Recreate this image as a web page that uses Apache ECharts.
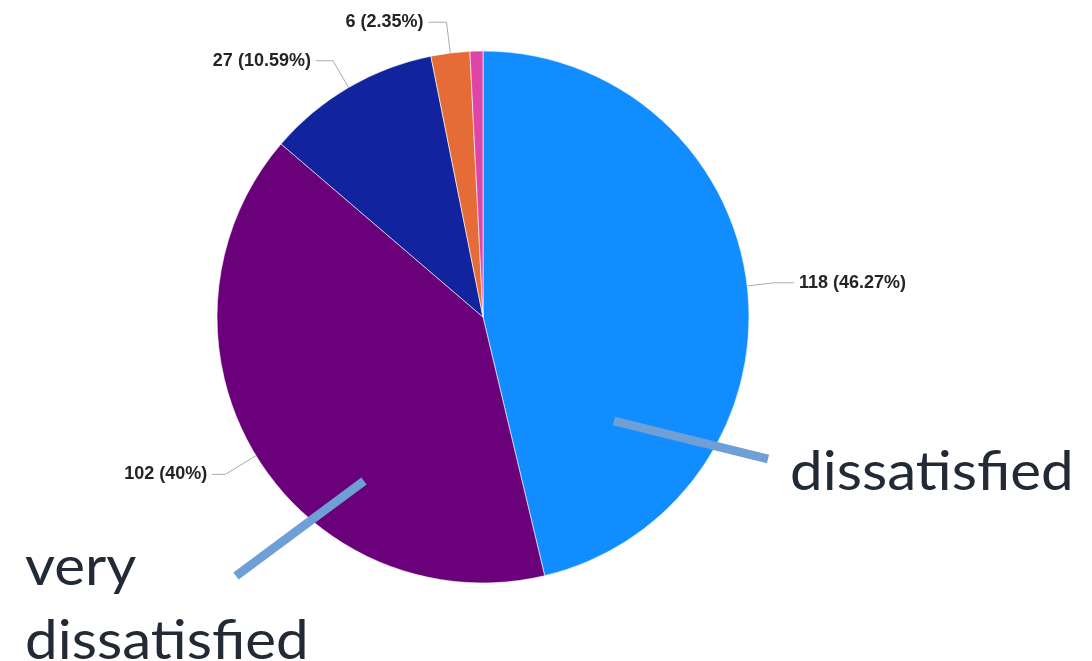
<!DOCTYPE html>
<html>
<head>
<meta charset="utf-8">
<script src="https://cdn.jsdelivr.net/npm/echarts@6/dist/echarts.min.js"></script>
<style>html,body{margin:0;padding:0;background:#fff}#c{width:1092px;height:661px}</style>
</head>
<body>
<div id="c"></div>
<script>
const categories = ['dissatisfied', 'very dissatisfied', 'neutral', 'satisfied', 'very satisfied'];
const values = [118, 102, 27, 6, 2];
const colors = ['#118DFF', '#6B007B', '#12239E', '#E66C37', '#E044A7'];
const showLabel = [true, true, true, true, false];
const lineLen = [27, 36, 31, 31, 27];
const lineLen2 = [20, 13, 17, 18, 20];

const total = values.reduce((a, b) => a + b, 0);
const chart = echarts.init(document.getElementById('c'), null, {renderer: 'canvas'});
const data = categories.map((n, i) => ({
  name: n, value: values[i],
  itemStyle: {color: colors[i]},
  label: {show: showLabel[i]},
  labelLine: {show: showLabel[i], length: lineLen[i], length2: lineLen2[i]}
}));
const annFont = 'Lato, "Open Sans", sans-serif';
const annStyle = (t) => ({text: t, font: '55px ' + annFont, fill: '#222A35'});
chart.setOption({
  animation: false,
  series: [{
    type: 'pie',
    center: [483, 317],
    radius: 266,
    startAngle: 90,
    clockwise: true,
    avoidLabelOverlap: false,
    itemStyle: {borderColor: '#fff', borderWidth: 0.6},
    label: {
      formatter: p => p.value + ' (' + (Math.round(p.value / total * 10000) / 100) + '%)',
      fontFamily: 'Arial',
      fontWeight: 'bold', fontSize: 18, color: '#252423'
    },
    labelLine: {lineStyle: {color: '#aaaaaa', width: 1}},
    data: data
  }],
  graphic: [
    {type: 'line', shape: {x1: 614, y1: 421, x2: 768, y2: 459}, style: {stroke: '#6E9FD5', lineWidth: 9}, z: 100},
    {type: 'line', shape: {x1: 364, y1: 481, x2: 236, y2: 576}, style: {stroke: '#6E9FD5', lineWidth: 9}, z: 100},
    {type: 'text', x: 790, y: 445, scaleX: 1.06, style: annStyle('dissatisfied'), z: 100},
    {type: 'text', x: 25, y: 540, scaleX: 1.06, style: annStyle('very'), z: 100},
    {type: 'text', x: 25, y: 614, scaleX: 1.06, style: annStyle('dissatisfied'), z: 100}
  ]
});
</script>
</body>
</html>
